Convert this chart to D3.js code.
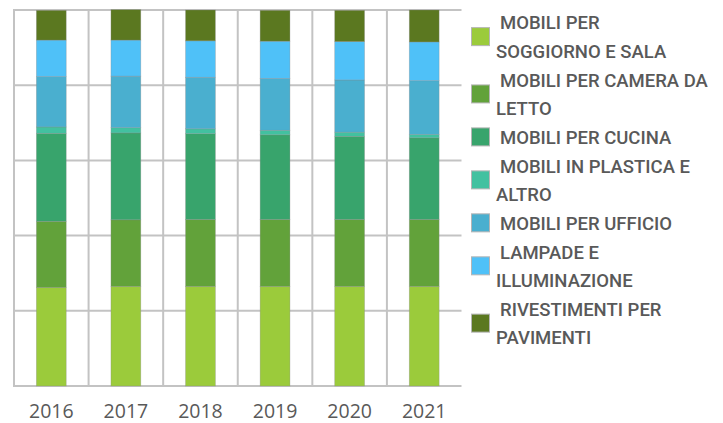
<!DOCTYPE html>
<html>
<head>
<meta charset="utf-8">
<script src="https://cdn.jsdelivr.net/npm/d3@7"></script>
<style>
  html, body { margin: 0; padding: 0; background: #fff; }
  svg { display: block; }
</style>
</head>
<body>
<div id="chart"></div>
<script>
// years on the x axis
const years = ["2016", "2017", "2018", "2019", "2020", "2021"];

// categories, bottom of the stack first
const categories = [
  "MOBILI PER SOGGIORNO E SALA",
  "MOBILI PER CAMERA DA LETTO",
  "MOBILI PER CUCINA",
  "MOBILI IN PLASTICA E ALTRO",
  "MOBILI PER UFFICIO",
  "LAMPADE E ILLUMINAZIONE",
  "RIVESTIMENTI PER PAVIMENTI",
];

// legend lines (wrapped as in the picture)
const legendLines = [
  ["MOBILI PER", "SOGGIORNO E SALA"],
  ["MOBILI PER CAMERA DA", "LETTO"],
  ["MOBILI PER CUCINA"],
  ["MOBILI IN PLASTICA E", "ALTRO"],
  ["MOBILI PER UFFICIO"],
  ["LAMPADE E", "ILLUMINAZIONE"],
  ["RIVESTIMENTI PER", "PAVIMENTI"],
];

// share (%) per category, one value per year
const soggiorno   = [26.2, 26.5, 26.5, 26.5, 26.5, 26.5];
const camera      = [17.6, 17.7, 17.8, 17.8, 17.8, 17.8];
const cucina      = [23.4, 23.1, 22.8, 22.5, 22.1, 21.7];
const plastica    = [1.7, 1.4, 1.3, 1.2, 1.1, 0.9];
const ufficio     = [13.4, 13.7, 13.7, 13.8, 13.9, 14.3];
const lampade     = [9.7, 9.6, 9.7, 9.9, 10.2, 10.3];
const rivestimenti = [7.9, 8.1, 8.2, 8.2, 8.3, 8.5];

const colors = ["#9bcb3b", "#62a23a", "#38a46c", "#42c1a0", "#4aafcf", "#4fc1f8", "#5b7820"];

main();

function main () {
  const width = 723,
    height = 423;
  const margin = { top: 10, right: 262, bottom: 37, left: 14 };

  const series = [soggiorno, camera, cucina, plastica, ufficio, lampade, rivestimenti];
  const table = years.map((year, i) => {
    const row = { year };
    categories.forEach((c, k) => (row[c] = series[k][i]));
    return row;
  });
  const stacked = d3.stack().keys(categories)(table);

  const svg = d3
    .select("#chart")
    .append("svg")
    .attr("width", width)
    .attr("height", height)
    .attr("viewBox", `0 0 ${width} ${height}`);

  // scales
  const scaleGrid = d3
    .scaleBand()
    .domain(years)
    .range([margin.left, width - margin.right + 0.5])
    .padding(0);
  const scaleX = d3
    .scaleBand()
    .domain(years)
    .range([margin.left, width - margin.right + 0.5])
    .paddingInner(0.6)
    .paddingOuter(0.3);
  const scaleY = d3
    .scaleLinear()
    .domain([0, 100])
    .range([height - margin.bottom, margin.top]);

  // grid
  const grid = svg.append("g").attr("class", "grid");
  grid
    .selectAll("line.h")
    .data(scaleY.ticks(5))
    .join("line")
    .attr("class", "h")
    .attr("x1", margin.left - 1)
    .attr("x2", width - margin.right + 0.5)
    .attr("y1", (d) => scaleY(d))
    .attr("y2", (d) => scaleY(d))
    .attr("stroke", "#c3c3c3")
    .attr("stroke-width", 2);
  grid
    .selectAll("line.v")
    .data(years)
    .join("line")
    .attr("class", "v")
    .attr("x1", (d) => scaleGrid(d))
    .attr("x2", (d) => scaleGrid(d))
    .attr("y1", scaleY(100))
    .attr("y2", scaleY(0))
    .attr("stroke", "#c3c3c3")
    .attr("stroke-width", 2);

  // bars
  svg
    .append("g")
    .attr("class", "bars")
    .selectAll("g")
    .data(stacked)
    .join("g")
    .attr("fill", (d, i) => colors[i])
    .selectAll("rect")
    .data((d) => d)
    .join("rect")
    .attr("x", (d) => scaleX(d.data.year))
    .attr("width", scaleX.bandwidth())
    .attr("y", (d) => scaleY(d[1]))
    .attr("height", (d) => scaleY(d[0]) - scaleY(d[1]))
    .attr("stroke", "#8a8a8a")
    .attr("stroke-opacity", 0.45)
    .attr("stroke-width", 0.7);

  // x axis labels
  const axisX = svg
    .append("g")
    .attr("transform", `translate(0, 417.5)`)
    .call(d3.axisBottom(scaleX).tickSize(0).tickPadding(0));
  axisX.select(".domain").remove();
  axisX
    .selectAll("text")
    .attr("dy", 0)
    .attr("fill", "#595959")
    .attr("font-family", "'Open Sans', sans-serif")
    .attr("font-size", "19.5px");

  // legend
  const lineH = 28.65;
  const firstBase = 29.3;
  const legend = svg.append("g").attr("class", "legend");
  let line = 0;
  legendLines.forEach((lines, i) => {
    const g = legend.append("g");
    const top = firstBase + line * lineH;
    const centre = top - 7 + ((lines.length - 1) * lineH) / 2;
    g.append("rect")
      .attr("x", 471.5)
      .attr("y", centre - 9)
      .attr("width", 18)
      .attr("height", 18)
      .attr("fill", colors[i])
      .attr("stroke", "#b5b5b5")
      .attr("stroke-width", 1);
    lines.forEach((t, j) => {
      g.append("text")
        .attr("x", j === 0 ? 500 : 496)
        .attr("y", top + j * lineH)
        .attr("fill", "#595959")
        .attr("font-family", "Roboto, sans-serif")
        .attr("font-weight", 500)
        .attr("font-size", "18.5px")
        .text(t);
    });
    line += lines.length;
  });
}
</script>
</body>
</html>
